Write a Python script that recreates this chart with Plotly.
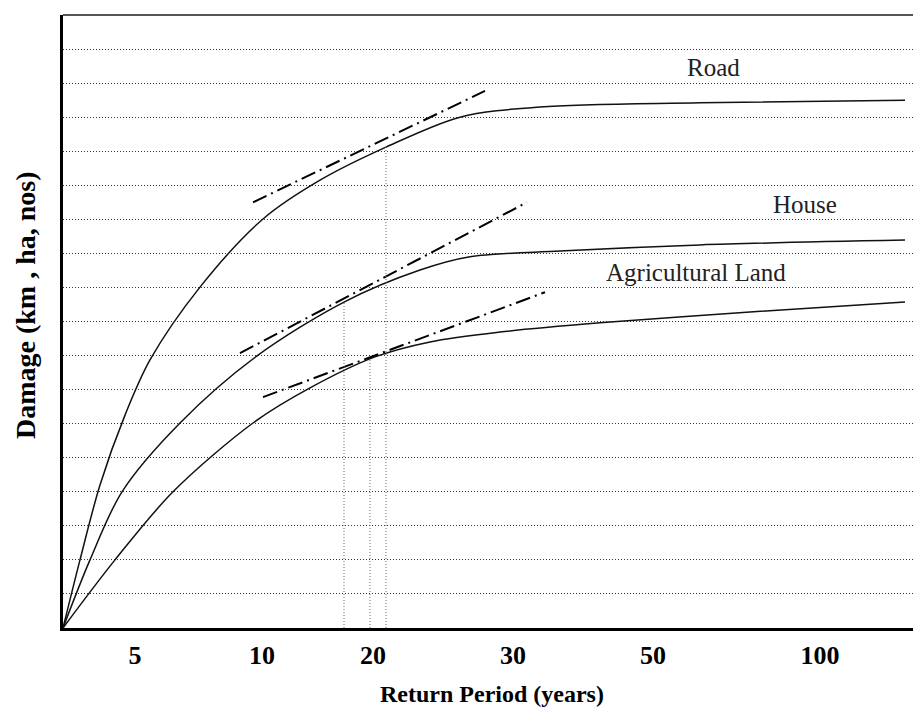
import plotly.graph_objects as go

# x positions are in "chart position" units (the return-period axis is drawn non-linearly)
tick_pos = [0.72, 1.99, 3.10, 4.50, 5.90, 7.57]
tick_text = ["5", "10", "20", "30", "50", "100"]

road_x = [0, 0.17, 0.37, 0.62, 0.87, 1.37, 2.00, 2.57, 3.23, 3.97, 4.77, 6.37, 8.42]
road_y = [0, 2.0, 4.2, 6.25, 7.87, 10.01, 12.01, 13.15, 14.12, 15.0, 15.3, 15.42, 15.5]

house_x = [0, 0.27, 0.59, 1.17, 1.94, 2.81, 3.57, 4.07, 4.97, 6.37, 8.42]
house_y = [0, 2.0, 4.0, 6.02, 7.99, 9.57, 10.51, 10.9, 11.07, 11.25, 11.39]

agri_x = [0, 0.52, 1.10, 1.90, 2.47, 3.12, 3.67, 4.37, 5.37, 6.87, 8.42]
agri_y = [0, 2.0, 4.0, 6.02, 7.05, 7.96, 8.4, 8.69, 8.96, 9.28, 9.57]

# tangent (dash-dot) lines: [x0, x1], [y0, y1]
road_tan_x = [1.90, 4.22]
road_tan_y = [12.5, 15.77]
house_tan_x = [1.77, 4.64]
house_tan_y = [8.07, 12.5]
agri_tan_x = [2.00, 4.82]
agri_tan_y = [6.78, 9.86]

# vertical dotted drop lines: x, top y
drop_x = [2.81, 3.07, 3.23]
drop_top = [9.57, 7.9, 14.12]

labels = ["Road", "House", "Agricultural Land"]
label_x = [6.50, 7.42, 6.33]
label_y = [16.47, 12.45, 10.45]

FONT = "Liberation Serif, Times New Roman, serif"

fig = go.Figure()

for xs, ys in [(road_x, road_y), (house_x, house_y), (agri_x, agri_y)]:
    fig.add_trace(go.Scatter(x=xs, y=ys, mode="lines",
                             line=dict(color="#111111", width=1.5, shape="spline", smoothing=0.9),
                             hoverinfo="skip", showlegend=False))

for xs, ys in [(road_tan_x, road_tan_y), (house_tan_x, house_tan_y), (agri_tan_x, agri_tan_y)]:
    fig.add_trace(go.Scatter(x=xs, y=ys, mode="lines",
                             line=dict(color="black", width=2, dash="15px,5px,2px,5px"),
                             hoverinfo="skip", showlegend=False))

for xv, top in zip(drop_x, drop_top):
    fig.add_trace(go.Scatter(x=[xv, xv], y=[0, top], mode="lines",
                             line=dict(color="#666666", width=1, dash="1px,2px"),
                             hoverinfo="skip", showlegend=False))

for t, xv, yv in zip(labels, label_x, label_y):
    fig.add_annotation(x=xv, y=yv, text=t, showarrow=False,
                       font=dict(family=FONT, size=25, color="#222222"))

# axis titles
fig.add_annotation(xref="paper", yref="paper", x=0.5, y=-0.108, text="<b>Return Period (years)</b>",
                   showarrow=False, xanchor="center", yanchor="middle",
                   font=dict(family=FONT, size=24, color="black"))
fig.add_annotation(xref="paper", yref="paper", x=-0.043, y=0.527, text="<b>Damage (km , ha, nos)</b>",
                   showarrow=False, xanchor="center", yanchor="middle", textangle=-90,
                   font=dict(family=FONT, size=28, color="black"))

fig.add_shape(type="line", xref="paper", yref="paper", x0=0, x1=1, y0=1, y1=1,
              line=dict(color="#555555", width=2))

fig.update_xaxes(range=[0, 8.58], tickvals=tick_pos, ticktext=tick_text, showgrid=False, zeroline=False,
                 showline=True, linecolor="black", linewidth=3, ticks="", automargin=False,
                 ticklabelstandoff=2,
                 tickfont=dict(family=FONT, size=26, color="black", weight="bold"))
fig.update_yaxes(range=[0, 18], dtick=1, showticklabels=False, showgrid=True, gridcolor="#333333", gridwidth=1,
                 griddash="1px,2px", zeroline=False, showline=True, linecolor="black", linewidth=3, ticks="",
                 automargin=False)

# the page body adds an 8px offset, so the figure is sized/margined to land the plot at the reference position
fig.update_layout(width=913, height=703, margin=dict(l=55, r=0, t=7, b=83),
                  plot_bgcolor="white", paper_bgcolor="white", font=dict(family=FONT))
fig.write_html("out.html")
